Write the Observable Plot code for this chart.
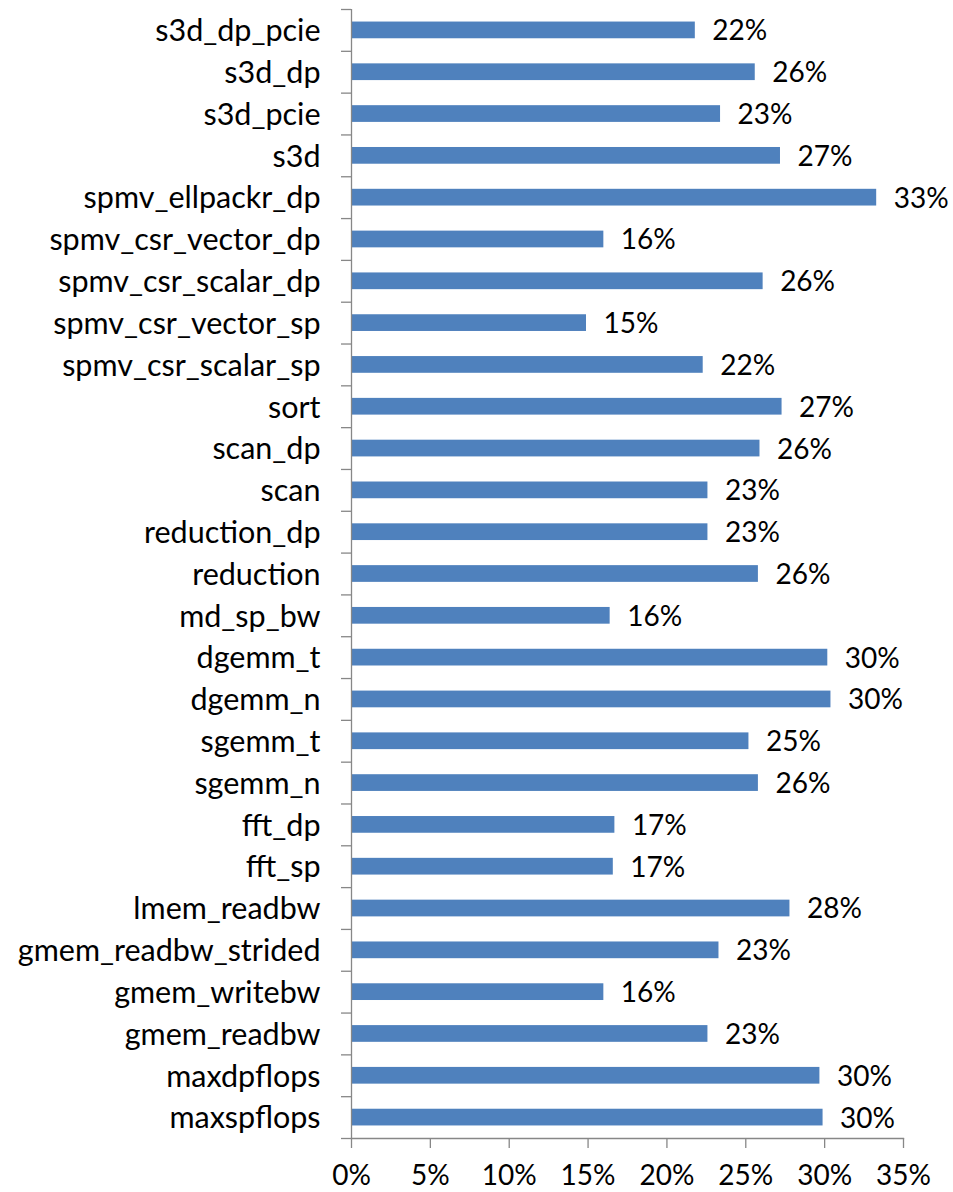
<!DOCTYPE html>
<html>
<head>
<meta charset="utf-8">
<script src="https://cdn.jsdelivr.net/npm/d3@7"></script>
<script src="https://cdn.jsdelivr.net/npm/@observablehq/plot@0.6"></script>
<style>
  html, body { margin: 0; padding: 0; background: #fff; overflow: hidden; }
  #chart svg { display: block; }
</style>
</head>
<body>
<div id="chart"></div>
<script>
// Benchmarks, listed top to bottom as drawn
const categories = [
  "s3d_dp_pcie", "s3d_dp", "s3d_pcie", "s3d", "spmv_ellpackr_dp",
  "spmv_csr_vector_dp", "spmv_csr_scalar_dp", "spmv_csr_vector_sp", "spmv_csr_scalar_sp",
  "sort", "scan_dp", "scan", "reduction_dp", "reduction", "md_sp_bw",
  "dgemm_t", "dgemm_n", "sgemm_t", "sgemm_n", "fft_dp", "fft_sp",
  "lmem_readbw", "gmem_readbw_strided", "gmem_writebw", "gmem_readbw",
  "maxdpflops", "maxspflops"
];

// Share per benchmark (fraction)
const shares = [
  0.218, 0.256, 0.234, 0.272, 0.333,
  0.160, 0.261, 0.149, 0.223,
  0.273, 0.259, 0.226, 0.226, 0.258, 0.164,
  0.302, 0.304, 0.252, 0.258, 0.167, 0.166,
  0.278, 0.233, 0.160, 0.226,
  0.297, 0.299
];

// Horizontal axis ticks
const xTicks = [0, 0.05, 0.10, 0.15, 0.20, 0.25, 0.30, 0.35];

const data = categories.map((name, i) => ({name, share: shares[i]}));
const pct = d3.format(".0%");

const width = 953;
const height = 1192;
const marginTop = 9;
const marginBottom = 54;
const marginLeft = 351;
const marginRight = 50;
const step = (height - marginTop - marginBottom) / categories.length;

const axisGray = "#878787";
const fontSize = 28;
const nameFontSize = 30.5;

const chart = Plot.plot({
  width, height, marginTop, marginBottom, marginLeft, marginRight,
  style: {fontFamily: "Lato, sans-serif", fontSize: `${fontSize}px`, background: "#fff", color: "#000"},
  x: {domain: [0, 0.35], label: null},
  // unrounded bands so that each row is exactly one step tall
  y: {domain: categories, paddingInner: 0.6, paddingOuter: 0.3, round: false, label: null},
  marks: [
    Plot.barX(data, {x: "share", y: "name", fill: "#4F81BD"}),
    Plot.text(data, {
      x: "share", y: "name", text: d => pct(d.share),
      textAnchor: "start", dx: 17, dy: 1, fill: "#000", fontSize
    }),
    // axis lines
    Plot.ruleX([0], {stroke: axisGray, strokeWidth: 1.3}),
    Plot.frame({anchor: "bottom", stroke: axisGray, strokeWidth: 1.3}),
    // x axis
    Plot.axisX(xTicks, {
      tickFormat: pct, tickSize: 10, tickPadding: 17, fontSize,
      stroke: axisGray, strokeWidth: 1.3, fill: "#000", label: null
    }),
    // category names
    Plot.axisY({tickSize: 0, tickPadding: 31, dy: 1, fontSize: nameFontSize, fill: "#000", label: null}),
    // boundary ticks between categories
    Plot.axisY(categories, {
      text: null, tickSize: 10, dy: -step / 2,
      stroke: axisGray, strokeWidth: 1.3, label: null
    }),
    Plot.axisY([categories[categories.length - 1]], {
      text: null, tickSize: 10, dy: step / 2,
      stroke: axisGray, strokeWidth: 1.3, label: null
    })
  ]
});

document.getElementById("chart").append(chart);
</script>
</body>
</html>
